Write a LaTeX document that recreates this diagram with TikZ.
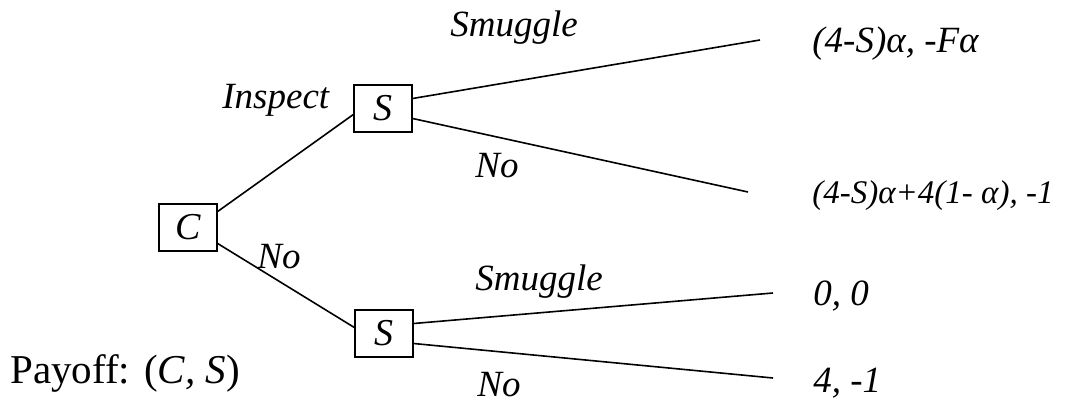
\documentclass[tikz,border=0pt]{standalone}
\usepackage{fontspec}
\setmainfont{Liberation Serif}
\begin{document}
\begin{tikzpicture}[x=0.5pt,y=-0.5pt,
  box/.style={draw,line width=0.65pt,minimum width=29pt,minimum height=23.5pt,inner sep=0pt,font=\fontsize{19}{20}\selectfont\itshape},
  lbl/.style={anchor=base west,inner sep=0pt,font=\fontsize{18.5}{20}\selectfont\itshape},
  small/.style={anchor=base west,inner sep=0pt,font=\fontsize{16.5}{18}\selectfont\itshape},
  edge/.style={line width=0.8pt}]
\useasboundingbox (0,0) rectangle (1066,402);
% decision nodes
\node[box] (C) at (188,227.5) {C};
\node[box] (S1) at (383,108.5) {S};
\node[box] (S2) at (384,333.5) {S};
% free ends
\coordinate (e1) at (760,40);
\coordinate (e2) at (748,192);
\coordinate (e3) at (773,293);
\coordinate (e4) at (773,378);
% connectors
\draw[edge] ([yshift=8pt]C.east) -- ([yshift=-3pt]S1.west);
\draw[edge] ([yshift=-8pt]C.east) -- ([yshift=3pt]S2.west);
\draw[edge] ([yshift=5pt]S1.east) -- (e1);
\draw[edge] ([yshift=-5pt]S1.east) -- (e2);
\draw[edge] ([yshift=5pt]S2.east) -- (e3);
\draw[edge] ([yshift=-5pt]S2.east) -- (e4);
% action labels
\node[lbl] (l1) at (450,36) {Smuggle};
\node[lbl] (l2) at (222,108) {Inspect};
\node[lbl] (l3) at (475,177) {No};
\node[lbl] (l4) at (257,268) {No};
\node[lbl] (l5) at (475,290) {Smuggle};
\node[lbl] (l6) at (477,396) {No};
% payoffs
\node[lbl] (p1) at (812,52) {(4-S)α, -Fα};
\node[small] (p2) at (812,203) {(4-S)α+4(1- α), -1};
\node[lbl] (p3) at (813,305) {0, 0};
\node[lbl] (p4) at (813,392) {4, -1};
\node[anchor=base west,inner sep=0pt,font=\fontsize{20.5}{22}\selectfont] (pay) at (10,383) {Payoff: (\textit{C, S})};
\end{tikzpicture}
\end{document}
